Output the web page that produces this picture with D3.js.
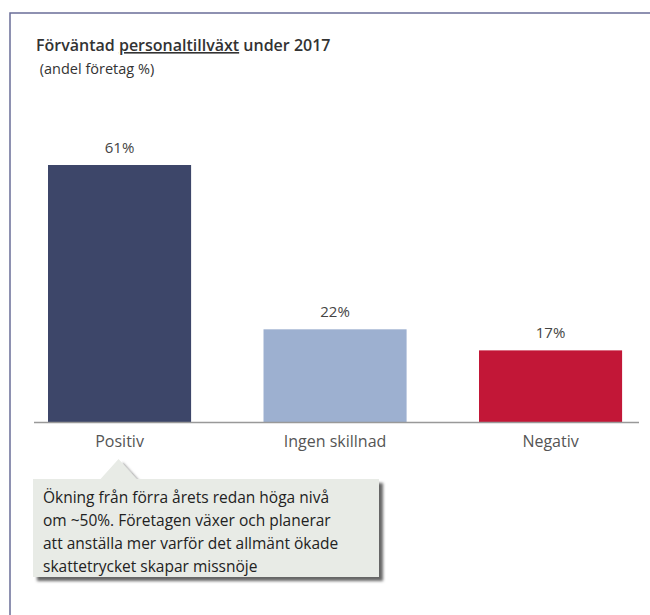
<!DOCTYPE html>
<html>
<head>
<meta charset="utf-8">
<script src="https://cdn.jsdelivr.net/npm/d3@7"></script>
<style>
  body { margin: 0; background: #fff; }
  svg { font-family: "Open Sans", sans-serif; }
</style>
</head>
<body>
<div id="chart"></div>
<script>
// data
const categories = ["Positiv", "Ingen skillnad", "Negativ"]
const values = [61, 22, 17]
const colors = ["#3d4669", "#9db0d0", "#c21737"]
const noteLines = [
  "Ökning från förra årets redan höga nivå",
  "om ~50%. Företagen växer och planerar",
  "att anställa mer varför det allmänt ökade",
  "skattetrycket skapar missnöje"
]

const width = 650
const height = 615
const baseY = 422

const svg = d3.select("#chart").append("svg")
    .attr("width", width)
    .attr("height", height)

// shadow for the callout
const defs = svg.append("defs")
const f = defs.append("filter").attr("id", "shadow")
    .attr("x", "-10%").attr("y", "-10%").attr("width", "130%").attr("height", "140%")
f.append("feDropShadow")
    .attr("dx", 4).attr("dy", 4).attr("stdDeviation", 1.8)
    .attr("flood-color", "#000").attr("flood-opacity", 0.6)

// frame (top + left edges)
svg.append("path")
    .attr("d", "M10,615 V13 H650")
    .attr("fill", "none")
    .attr("stroke", "#6a6e98")
    .attr("stroke-width", 1.5)

// title
const title = svg.append("text")
    .attr("x", 36).attr("y", 51)
    .attr("font-size", 16).attr("font-weight", 600)
    .attr("fill", "#333")
title.append("tspan").text("Förväntad ")
title.append("tspan").attr("text-decoration", "underline").text("personaltillväxt")
title.append("tspan").text(" under 2017")

svg.append("text")
    .attr("x", 36).attr("y", 74)
    .attr("font-size", 14.5)
    .attr("fill", "#333")
    .attr("xml:space", "preserve")
    .text(" (andel företag %)")

const x = d3.scaleBand()
    .domain(categories)
    .range([11.8, 658.3])
    .paddingInner(0.336)
    .paddingOuter(0.168)

const y = d3.scaleLinear()
    .domain([0, 61])
    .range([baseY, 165])

svg.selectAll("rect.bar")
    .data(values)
  .enter().append("rect")
    .attr("class", "bar")
    .attr("x", (d, i) => x(categories[i]))
    .attr("y", d => y(d))
    .attr("width", x.bandwidth())
    .attr("height", d => baseY - y(d))
    .attr("fill", (d, i) => colors[i])

svg.selectAll("text.val")
    .data(values)
  .enter().append("text")
    .attr("class", "val")
    .attr("x", (d, i) => x(categories[i]) + x.bandwidth() / 2)
    .attr("y", d => y(d) - 12)
    .attr("text-anchor", "middle")
    .attr("font-size", 15)
    .attr("fill", "#444")
    .text(d => d + "%")

// baseline
svg.append("line")
    .attr("x1", 34).attr("x2", 639)
    .attr("y1", baseY + 0.5).attr("y2", baseY + 0.5)
    .attr("stroke", "#999")
    .attr("stroke-width", 1.5)

svg.selectAll("text.cat")
    .data(categories)
  .enter().append("text")
    .attr("class", "cat")
    .attr("x", d => x(d) + x.bandwidth() / 2)
    .attr("y", 447)
    .attr("text-anchor", "middle")
    .attr("font-size", 16)
    .attr("fill", "#555")
    .text(d => d)

// callout
const cx = x("Positiv") + x.bandwidth() / 2 - 1
const note = svg.append("g")
note.append("path")
    .attr("d", `M33,479 H${cx - 18} L${cx},459 L${cx + 18},479 H379 V577 H33 Z`)
    .attr("fill", "#e8ebe6")
    .attr("filter", "url(#shadow)")

note.selectAll("text")
    .data(noteLines)
  .enter().append("text")
    .attr("x", 43)
    .attr("y", (d, i) => 503 + i * 23)
    .attr("font-size", 15.5)
    .attr("fill", "#222")
    .text(d => d)
</script>
</body>
</html>
